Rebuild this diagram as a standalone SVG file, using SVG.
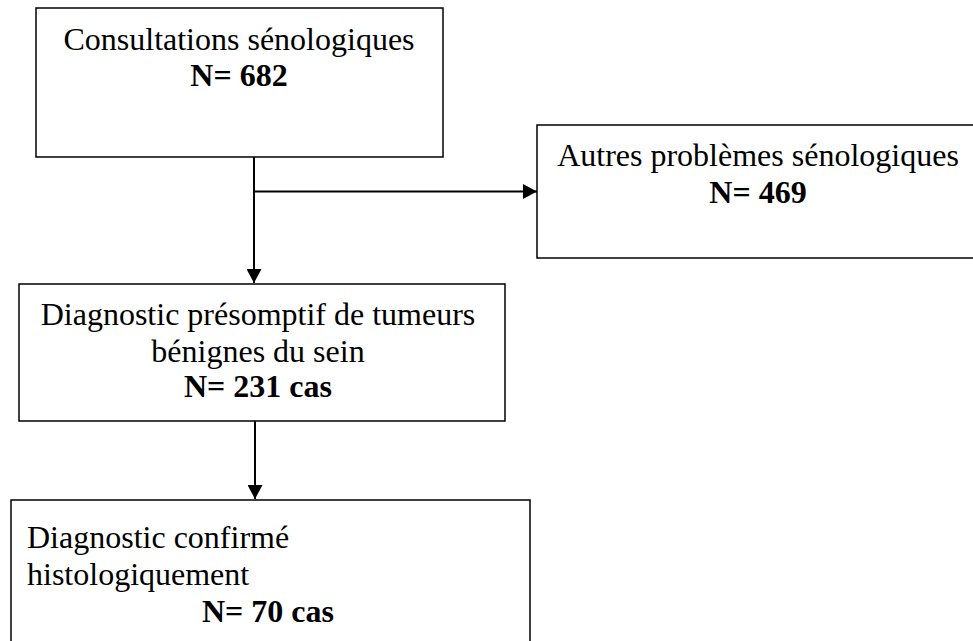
<svg xmlns="http://www.w3.org/2000/svg" width="973" height="641" viewBox="0 0 973 641">
<defs>
<style>
.box{fill:#fff;stroke:#000;stroke-width:1.5}
.t{font-family:"Liberation Serif","Times New Roman",serif;font-size:32px;fill:#000}
.c{text-anchor:middle}
.b{font-weight:bold}
.ln{stroke:#000;stroke-width:2;fill:none}
</style>
<marker id="ah" viewBox="0 0 14 15" refX="14" refY="7.5" markerWidth="14" markerHeight="15" markerUnits="userSpaceOnUse" orient="auto">
<path d="M0,0 L14,7.5 L0,15 Z" fill="#000"/>
</marker>
</defs>
<rect width="973" height="641" fill="#fff"/>
<g id="connectors">
<line class="ln" x1="254" y1="157" x2="254" y2="283" marker-end="url(#ah)"/>
<line class="ln" x1="254" y1="191.5" x2="537" y2="191.5" marker-end="url(#ah)"/>
<line class="ln" x1="255" y1="421" x2="255" y2="499" marker-end="url(#ah)"/>
</g>
<g id="n1">
<rect class="box" x="36" y="8" width="407" height="149"/>
<text class="t c" x="239" y="50">Consultations sénologiques</text>
<text class="t c b" x="239" y="86">N= 682</text>
</g>
<g id="n2">
<rect class="box" x="537" y="125" width="445" height="133"/>
<text class="t c" x="758" y="166">Autres problèmes sénologiques</text>
<text class="t c b" x="758" y="203">N= 469</text>
</g>
<g id="n3">
<rect class="box" x="19" y="284" width="486" height="137"/>
<text class="t c" x="258" y="325">Diagnostic présomptif de tumeurs</text>
<text class="t c" x="258" y="362">bénignes du sein</text>
<text class="t c b" x="258" y="397">N= 231 cas</text>
</g>
<g id="n4">
<rect class="box" x="11" y="500" width="519" height="160"/>
<text class="t" x="27" y="548">Diagnostic confirmé</text>
<text class="t" x="27" y="585">histologiquement</text>
<text class="t c b" x="268" y="622">N= 70 cas</text>
</g>
</svg>
